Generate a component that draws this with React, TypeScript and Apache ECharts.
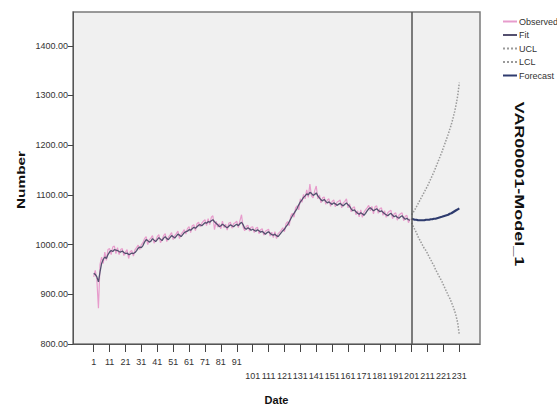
import React, { useEffect, useRef } from "react";
import * as echarts from "echarts";

// Observed values, periods 1..200
const observed = [
  935, 948, 930, 872, 960, 975, 962, 985, 968, 990,
  992, 980, 995, 997, 982, 994, 980, 990, 992, 978,
  985, 990, 972, 986, 988, 977, 990, 994, 999, 990,
  1000, 1004, 1012, 1016, 1000, 1010, 1013, 1018, 1003, 1008,
  1016, 1020, 1004, 1010, 1018, 1022, 1006, 1015, 1019, 1024,
  1010, 1018, 1022, 1027, 1012, 1021, 1025, 1030, 1021, 1032,
  1036, 1024, 1038, 1040, 1028, 1042, 1045, 1036, 1043, 1047,
  1050, 1038, 1052, 1040, 1055, 1058, 1030, 1047, 1035, 1042,
  1032, 1047, 1034, 1041, 1029, 1043, 1045, 1033, 1042, 1044,
  1047, 1034, 1048, 1060, 1035, 1028, 1037, 1039, 1027, 1035,
  1036, 1024, 1033, 1035, 1022, 1030, 1032, 1019, 1027, 1029,
  1031, 1017, 1025, 1014, 1026, 1012, 1022, 1025, 1029, 1034,
  1026, 1042, 1046, 1038, 1058, 1063, 1055, 1074, 1078, 1070,
  1092, 1085, 1101, 1092, 1110, 1095, 1122, 1098, 1094, 1108,
  1118, 1092, 1100, 1084, 1094, 1096, 1081, 1090, 1092, 1077,
  1087, 1090, 1076, 1085, 1087, 1090, 1074, 1084, 1087, 1092,
  1074, 1082, 1066, 1074, 1076, 1060, 1068, 1056, 1070, 1055,
  1065, 1070, 1074, 1079, 1068, 1077, 1062, 1076, 1078, 1063,
  1072, 1074, 1059, 1068, 1055, 1064, 1067, 1069, 1052, 1062,
  1064, 1049, 1059, 1062, 1064, 1048, 1057, 1059, 1044, 1052,
];

// Model fit, periods 1..200
const fit = [
  942, 940, 935, 925, 945, 962, 970, 975, 972, 980,
  985, 988, 986, 990, 989, 988, 986, 985, 987, 984,
  982, 983, 980, 981, 983, 982, 984, 988, 993, 995,
  994, 998, 1005, 1010, 1008, 1005, 1007, 1012, 1009, 1006,
  1010, 1014, 1011, 1008, 1013, 1016, 1012, 1010, 1014, 1018,
  1016, 1013, 1017, 1021, 1019, 1016, 1020, 1024, 1026, 1027,
  1030, 1029, 1032, 1035, 1033, 1036, 1039, 1040, 1038, 1041,
  1044, 1043, 1046, 1045, 1048, 1050, 1046, 1043, 1040, 1036,
  1038, 1041, 1039, 1036, 1034, 1037, 1040, 1038, 1036, 1039,
  1041, 1038, 1042, 1045, 1040, 1033, 1031, 1034, 1032, 1029,
  1031, 1029, 1027, 1030, 1028, 1025, 1027, 1024, 1021, 1024,
  1026, 1023, 1020, 1019, 1021, 1018, 1016, 1020, 1024, 1028,
  1031, 1036, 1040, 1046, 1052, 1058, 1063, 1068, 1073, 1080,
  1086, 1090, 1095, 1098, 1102, 1100, 1105, 1103, 1099, 1101,
  1104, 1098, 1094, 1090, 1088, 1091, 1087, 1084, 1086, 1083,
  1081, 1084, 1082, 1079, 1081, 1083, 1080, 1078, 1081, 1084,
  1080, 1077, 1072, 1068, 1070, 1066, 1063, 1061, 1064, 1062,
  1059, 1063, 1068, 1072, 1074, 1071, 1068, 1070, 1072, 1069,
  1066, 1068, 1065, 1062, 1060, 1058, 1061, 1063, 1059, 1056,
  1058, 1055, 1053, 1056, 1058, 1054, 1051, 1053, 1050, 1049,
];

// Forecast period 201..231
const forecastStart = 201;
const forecast = [
  1052, 1051, 1050, 1050, 1049, 1049, 1049, 1049, 1049, 1050,
  1050, 1050, 1051, 1051, 1052, 1052, 1053, 1054, 1055, 1056,
  1057, 1058, 1059, 1060, 1062, 1063, 1065, 1067, 1069, 1071,
  1073,
];
const ucl = [
  1060, 1065, 1070, 1076, 1082, 1088, 1094, 1100, 1106, 1112,
  1118, 1125, 1132, 1139, 1146, 1154, 1162, 1170, 1178, 1186,
  1195, 1204, 1213, 1222, 1232, 1242, 1254, 1267, 1282, 1300,
  1326,
];
const lcl = [
  1044, 1037, 1030, 1024, 1016, 1010, 1004, 998, 992, 988,
  982, 975, 970, 963, 958, 950, 944, 938, 932, 926,
  919, 912, 905, 898, 892, 884, 876, 867, 856, 842,
  818,
];

const xTickValues = [1, 11, 21, 31, 41, 51, 61, 71, 81, 91, 101, 111, 121, 131, 141, 151, 161, 171, 181, 191, 201, 211, 221, 231];
const yTickValues = [800, 900, 1000, 1100, 1200, 1300, 1400];

const FONT = "Liberation Sans, Arial, sans-serif";

export default function App() {
  const ref = useRef<HTMLDivElement>(null);
  useEffect(() => {
    if (!ref.current) return;
    const chart = echarts.init(ref.current, null, { renderer: "svg" });
    const obsData = observed.map((v, i) => [i + 1, v]);
    const fitData = fit.map((v, i) => [i + 1, v]);
    const fcData = forecast.map((v, i) => [forecastStart + i, v]);
    const uclData = ucl.map((v, i) => [forecastStart + i, v]);
    const lclData = lcl.map((v, i) => [forecastStart + i, v]);

    chart.setOption({
      animation: false,
      backgroundColor: "#ffffff",
      textStyle: { fontFamily: FONT },
      grid: {
        left: 73,
        right: 77,
        top: 12,
        bottom: 63,
        show: true,
        backgroundColor: "#f0f0f0",
        borderColor: "#7a7a7a",
        borderWidth: 1.5,
      },
      legend: {
        orient: "vertical",
        left: 497,
        top: 12,
        itemWidth: 14,
        itemHeight: 8,
        itemGap: 4.5,
        itemStyle: { opacity: 0 },
        textStyle: { fontSize: 9, color: "#333", fontFamily: FONT, padding: [0, 0, 0, -3] },
        data: ["Observed", "Fit", "UCL", "LCL", "Forecast"],
      },
      xAxis: {
        type: "value",
        min: -12,
        max: 244,
        name: "Date",
        nameLocation: "middle",
        nameGap: 50,
        nameTextStyle: { fontSize: 11, fontWeight: "bold", color: "#111", fontFamily: FONT },
        axisLine: { show: true, onZero: false, lineStyle: { color: "#555", width: 1 } },
        axisTick: { show: true, length: 8, customValues: xTickValues, lineStyle: { color: "#444" } },
        axisLabel: {
          customValues: xTickValues,
          fontSize: 9,
          lineHeight: 14,
          color: "#333",
          margin: 11,
          formatter: (v: number) => (v > 100 ? "\n" + v : String(v)),
        },
        splitLine: { show: false },
      },
      yAxis: {
        type: "value",
        min: 800,
        max: 1468,
        axisLine: { show: true, onZero: false, lineStyle: { color: "#555", width: 1 } },
        axisTick: { show: true, length: 5, customValues: yTickValues, lineStyle: { color: "#444" } },
        axisLabel: {
          customValues: yTickValues,
          fontSize: 9,
          color: "#333",
          margin: 5,
          formatter: (v: number) => v.toFixed(2),
        },
        splitLine: { show: false },
      },
      series: [
        {
          name: "Observed",
          type: "line",
          data: obsData,
          symbol: "none",
          lineStyle: { color: "#e79ccc", width: 1.2 },
          itemStyle: { color: "#e79ccc" },
          z: 2,
        },
        {
          name: "Fit",
          type: "line",
          data: fitData,
          symbol: "none",
          lineStyle: { color: "#54506f", width: 1.3 },
          itemStyle: { color: "#54506f" },
          z: 3,
        },
        {
          name: "UCL",
          type: "line",
          data: uclData,
          symbol: "none",
          lineStyle: { color: "#9a9a9a", width: 1.5, type: "dotted" },
          itemStyle: { color: "#9a9a9a" },
          z: 2,
        },
        {
          name: "LCL",
          type: "line",
          data: lclData,
          symbol: "none",
          lineStyle: { color: "#9a9a9a", width: 1.5, type: "dotted" },
          itemStyle: { color: "#9a9a9a" },
          z: 2,
        },
        {
          name: "Forecast",
          type: "line",
          data: fcData,
          symbol: "none",
          lineStyle: { color: "#2e3b6e", width: 2.2 },
          itemStyle: { color: "#2e3b6e" },
          z: 4,
          markLine: {
            silent: true,
            symbol: "none",
            label: { show: false },
            lineStyle: { color: "#555", type: "solid", width: 1.5 },
            data: [{ xAxis: forecastStart }],
          },
        },
      ],
      graphic: [
        {
          type: "text",
          x: 21,
          y: 180,
          rotation: Math.PI / 2,
          scaleX: 1.4,
          style: {
            text: "Number",
            fontSize: 11,
            fontWeight: "bold",
            fill: "#111",
            fontFamily: FONT,
            align: "center",
            verticalAlign: "middle",
          },
        },
        {
          type: "text",
          x: 519,
          y: 184,
          rotation: -Math.PI / 2,
          scaleX: 1.5,
          style: {
            text: "VAR00001-Model_1",
            fontSize: 12,
            fontWeight: "bold",
            fill: "#111",
            fontFamily: FONT,
            align: "center",
            verticalAlign: "middle",
          },
        },
      ],
    });
    return () => chart.dispose();
  }, []);
  return (
    <div
      ref={ref}
      style={{ position: "fixed", left: 0, top: 0, width: 557, height: 410 }}
    />
  );
}
